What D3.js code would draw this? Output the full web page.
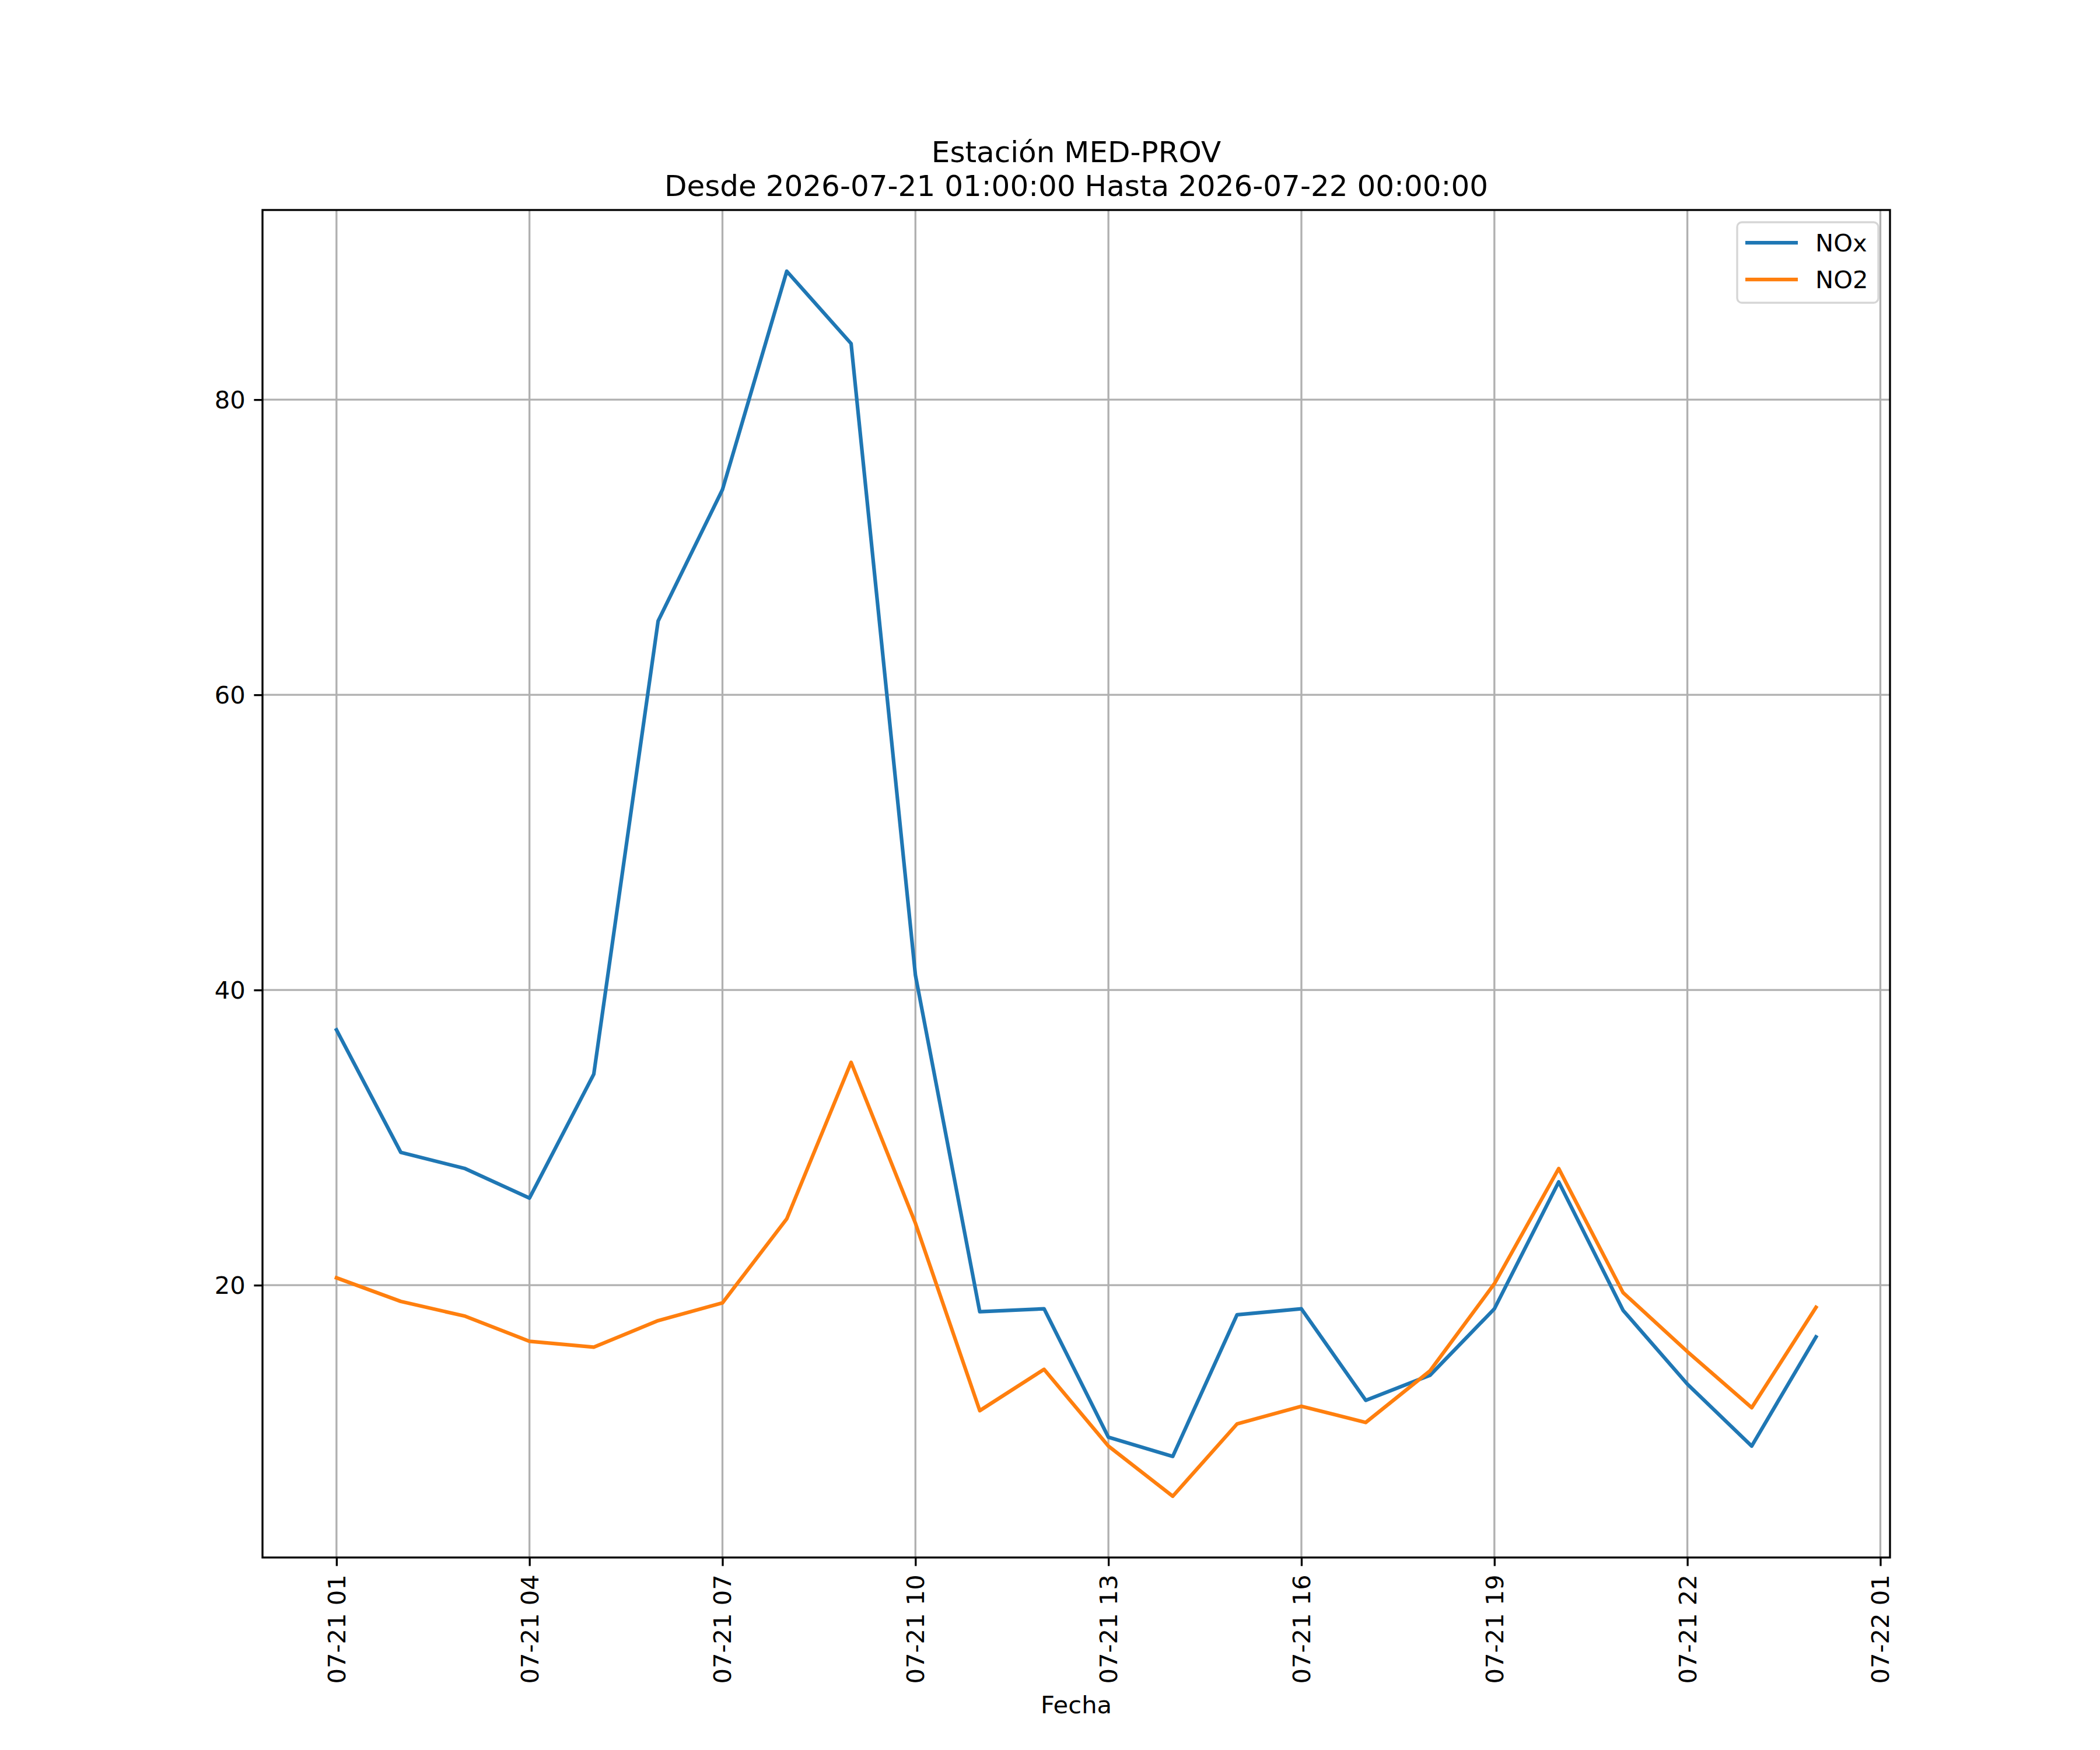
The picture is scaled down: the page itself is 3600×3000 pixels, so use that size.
<!DOCTYPE html>
<html>
<head>
<meta charset="utf-8">
<script src="https://cdn.jsdelivr.net/npm/d3@7"></script>
<style>
  body { margin: 0; background: #fff; }
  text { font-family: "DejaVu Sans", sans-serif; }
</style>
</head>
<body>
<div id="chart-area"></div>
<script>
// data (hourly)
let times = [
  "2026-07-21T01:00:00Z", "2026-07-21T02:00:00Z", "2026-07-21T03:00:00Z", "2026-07-21T04:00:00Z",
  "2026-07-21T05:00:00Z", "2026-07-21T06:00:00Z", "2026-07-21T07:00:00Z", "2026-07-21T08:00:00Z",
  "2026-07-21T09:00:00Z", "2026-07-21T10:00:00Z", "2026-07-21T11:00:00Z", "2026-07-21T12:00:00Z",
  "2026-07-21T13:00:00Z", "2026-07-21T14:00:00Z", "2026-07-21T15:00:00Z", "2026-07-21T16:00:00Z",
  "2026-07-21T17:00:00Z", "2026-07-21T18:00:00Z", "2026-07-21T19:00:00Z", "2026-07-21T20:00:00Z",
  "2026-07-21T21:00:00Z", "2026-07-21T22:00:00Z", "2026-07-21T23:00:00Z", "2026-07-22T00:00:00Z"
];
let nox = [37.3, 29.0, 27.9, 25.9, 34.3, 65.0, 73.9, 88.7, 83.8, 41.0, 18.2, 18.4,
           9.7, 8.4, 18.0, 18.4, 12.2, 13.9, 18.4, 27.0, 18.3, 13.3, 9.1, 16.5];
let no2 = [20.5, 18.9, 17.9, 16.2, 15.8, 17.6, 18.8, 24.5, 35.1, 24.2, 11.5, 14.3,
           9.1, 5.7, 10.6, 11.8, 10.7, 14.2, 20.1, 27.9, 19.5, 15.5, 11.7, 18.5];
let xTicks = [
  "2026-07-21T01:00:00Z", "2026-07-21T04:00:00Z", "2026-07-21T07:00:00Z", "2026-07-21T10:00:00Z",
  "2026-07-21T13:00:00Z", "2026-07-21T16:00:00Z", "2026-07-21T19:00:00Z", "2026-07-21T22:00:00Z",
  "2026-07-22T01:00:00Z"
];
let yTicks = [20, 40, 60, 80];
let seriesNames = ["NOx", "NO2"];
let colors = ["#1f77b4", "#ff7f0e"];
let titleLines = ["Estación MED-PROV", "Desde 2026-07-21 01:00:00 Hasta 2026-07-22 00:00:00"];

let W = 3600, H = 3000;
let margin = {top: 360, right: 360, bottom: 330, left: 450};
let width = W - margin.left - margin.right,
    height = H - margin.top - margin.bottom;

let fs = 41.67;   // 10pt at 300 dpi
let lw = 3.33;    // 0.8pt

let dates = times.map(t => new Date(t));
let series = [nox, no2].map((vals, i) => ({
  name: seriesNames[i],
  color: colors[i],
  values: vals.map((v, j) => ({t: dates[j], v: v}))
}));

let svg = d3.select("#chart-area").append("svg")
    .attr("width", W)
    .attr("height", H)
    .style("display", "block")
    .style("background", "#fff");

let g = svg.append("g")
    .attr("transform", "translate(" + margin.left + "," + margin.top + ")");

// scales with matplotlib-like 5% margins
let t0 = d3.min(dates), t1 = d3.max(dates);
let span = t1 - t0;
let x = d3.scaleUtc()
    .domain([new Date(+t0 - 0.05 * span), new Date(+t1 + 0.05 * span)])
    .range([0, width]);

let allVals = nox.concat(no2);
let vmin = d3.min(allVals), vmax = d3.max(allVals);
let r = vmax - vmin;
let y = d3.scaleLinear()
    .domain([vmin - 0.05 * r, vmax + 0.05 * r])
    .range([height, 0]);

let tickDates = xTicks.map(t => new Date(t));

// grid
g.append("g")
  .selectAll("line.vgrid")
  .data(tickDates)
  .enter().append("line")
    .attr("x1", d => x(d)).attr("x2", d => x(d))
    .attr("y1", 0).attr("y2", height)
    .attr("stroke", "#b0b0b0")
    .attr("stroke-width", lw);

g.append("g")
  .selectAll("line.hgrid")
  .data(yTicks)
  .enter().append("line")
    .attr("x1", 0).attr("x2", width)
    .attr("y1", d => y(d)).attr("y2", d => y(d))
    .attr("stroke", "#b0b0b0")
    .attr("stroke-width", lw);

// clip
svg.append("defs").append("clipPath").attr("id", "clip")
  .append("rect").attr("width", width).attr("height", height);

let line = d3.line()
    .x(d => x(d.t))
    .y(d => y(d.v));

g.append("g").attr("clip-path", "url(#clip)")
  .selectAll("path")
  .data(series)
  .enter().append("path")
    .attr("d", d => line(d.values))
    .attr("fill", "none")
    .attr("stroke", d => d.color)
    .attr("stroke-width", 6.25)
    .attr("stroke-linejoin", "round")
    .attr("stroke-linecap", "square");

// axes
let xAxis = d3.axisBottom(x)
    .tickValues(tickDates)
    .tickFormat(d3.utcFormat("%m-%d %H"))
    .tickSize(14.6)
    .tickPadding(14.6);

let yAxis = d3.axisLeft(y)
    .tickValues(yTicks)
    .tickFormat(d3.format("d"))
    .tickSize(14.6)
    .tickPadding(14.6);

let xAxisGroup = g.append("g")
    .attr("transform", "translate(0," + height + ")")
    .call(xAxis);

let yAxisGroup = g.append("g")
    .call(yAxis);

[xAxisGroup, yAxisGroup].forEach(ax => {
  ax.select(".domain").remove();
  ax.attr("font-family", null).attr("font-size", null);
  ax.selectAll(".tick line").attr("stroke", "#000").attr("stroke-width", lw);
  ax.selectAll(".tick text")
    .attr("fill", "#000")
    .style("font-size", fs + "px");
});

xAxisGroup.selectAll(".tick text")
    .attr("y", null)
    .attr("dy", null)
    .attr("text-anchor", "end")
    .attr("dominant-baseline", "central")
    .attr("transform", "translate(0," + (14.6 + 14.6) + ") rotate(-90)");

yAxisGroup.selectAll(".tick text")
    .attr("dy", null)
    .attr("dominant-baseline", "central");

// spines
g.append("rect")
    .attr("width", width)
    .attr("height", height)
    .attr("fill", "none")
    .attr("stroke", "#000")
    .attr("stroke-width", lw);

// title
svg.append("g").selectAll("text")
  .data(titleLines)
  .enter().append("text")
    .attr("x", margin.left + width / 2)
    .attr("y", (d, i) => 278 + i * 58)
    .attr("text-anchor", "middle")
    .style("font-size", "50px")
    .text(d => d);

// x label
svg.append("text")
    .attr("x", margin.left + width / 2)
    .attr("y", 2937)
    .attr("text-anchor", "middle")
    .style("font-size", fs + "px")
    .text("Fecha");

// legend
let lg = svg.append("g");
lg.append("rect")
    .attr("x", 2978).attr("y", 381)
    .attr("width", 242).attr("height", 138)
    .attr("rx", 8).attr("ry", 8)
    .attr("fill", "#fff").attr("fill-opacity", 0.8)
    .attr("stroke", "#cccccc").attr("stroke-opacity", 0.8)
    .attr("stroke-width", lw);

let items = lg.selectAll("g.item")
  .data(series)
  .enter().append("g")
    .attr("transform", (d, i) => "translate(0," + (416 + i * 63) + ")");

items.append("line")
    .attr("x1", 2992).attr("x2", 3082)
    .attr("stroke", d => d.color)
    .attr("stroke-width", 6.25);

items.append("text")
    .attr("x", 3112)
    .attr("dominant-baseline", "central")
    .style("font-size", fs + "px")
    .text(d => d.name);
</script>
</body>
</html>
